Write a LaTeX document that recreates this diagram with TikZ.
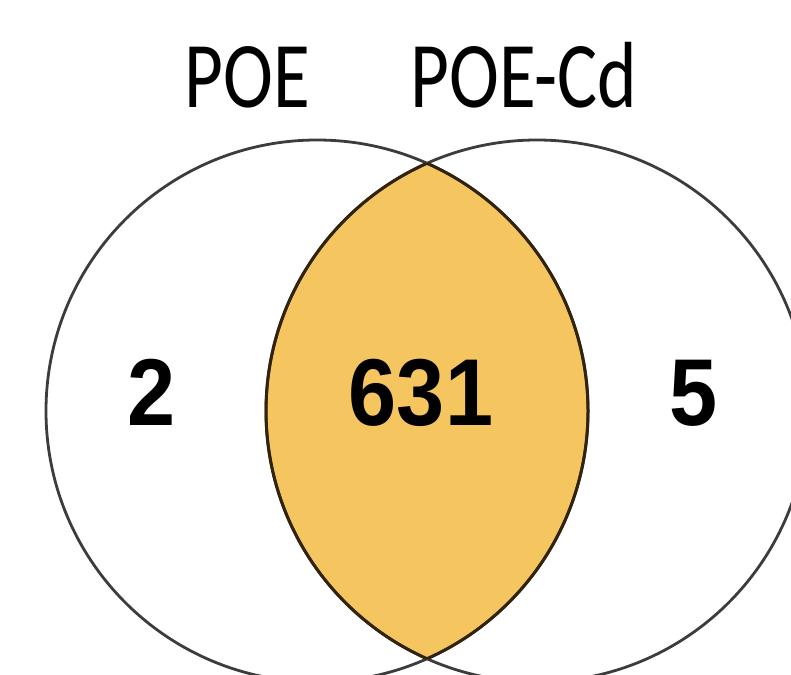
\documentclass[tikz,border=0pt]{standalone}
\usepackage{fontspec}
\setmainfont{Carlito}
\newfontfamily\numfont{Liberation Sans}
\definecolor{lensfill}{RGB}{245,198,96}
\definecolor{ringline}{RGB}{60,60,60}
\definecolor{lensline}{RGB}{50,36,12}
\newcommand{\setname}[1]{\scalebox{0.8}[1]{#1}}
\newcommand{\countnum}[1]{\scalebox{0.91}[1]{#1}}
\begin{document}
\begin{tikzpicture}[x=1pt,y=-1pt,
  setlabel/.style={anchor=base,inner sep=0pt,font=\fontsize{94}{98}\selectfont},
  countlabel/.style={anchor=base,inner sep=0pt,font=\numfont\bfseries\fontsize{95}{99}\selectfont},
  ring/.style={draw=ringline,line width=2.8pt}]
\useasboundingbox (0,0) rectangle (791,674);
\fill[white] (0,0) rectangle (791,674);
\begin{scope}
\clip (0,0) rectangle (791,674);
\coordinate (cA) at (317,411);
\coordinate (cB) at (537,411);
\begin{scope}
\clip (cA) circle (271);
\fill[lensfill] (cB) circle (271);
\end{scope}
\draw[ring] (cA) circle (271);
\draw[ring] (cB) circle (271);
\begin{scope}
\clip (cA) circle (271);
\draw[lensline,line width=3pt] (cB) circle (271);
\end{scope}
\begin{scope}
\clip (cB) circle (271);
\draw[lensline,line width=3pt] (cA) circle (271);
\end{scope}
\end{scope}
\node[setlabel] (poe) at (247.5,107) {\setname{POE}};
\node[setlabel] (poecd) at (524,107) {\setname{POE-Cd}};
\node[countlabel] (n2) at (151.5,425) {\countnum{2}};
\node[countlabel] (n631) at (421,425) {\countnum{631}};
\node[countlabel] (n5) at (694,425) {\countnum{5}};
\end{tikzpicture}
\end{document}
